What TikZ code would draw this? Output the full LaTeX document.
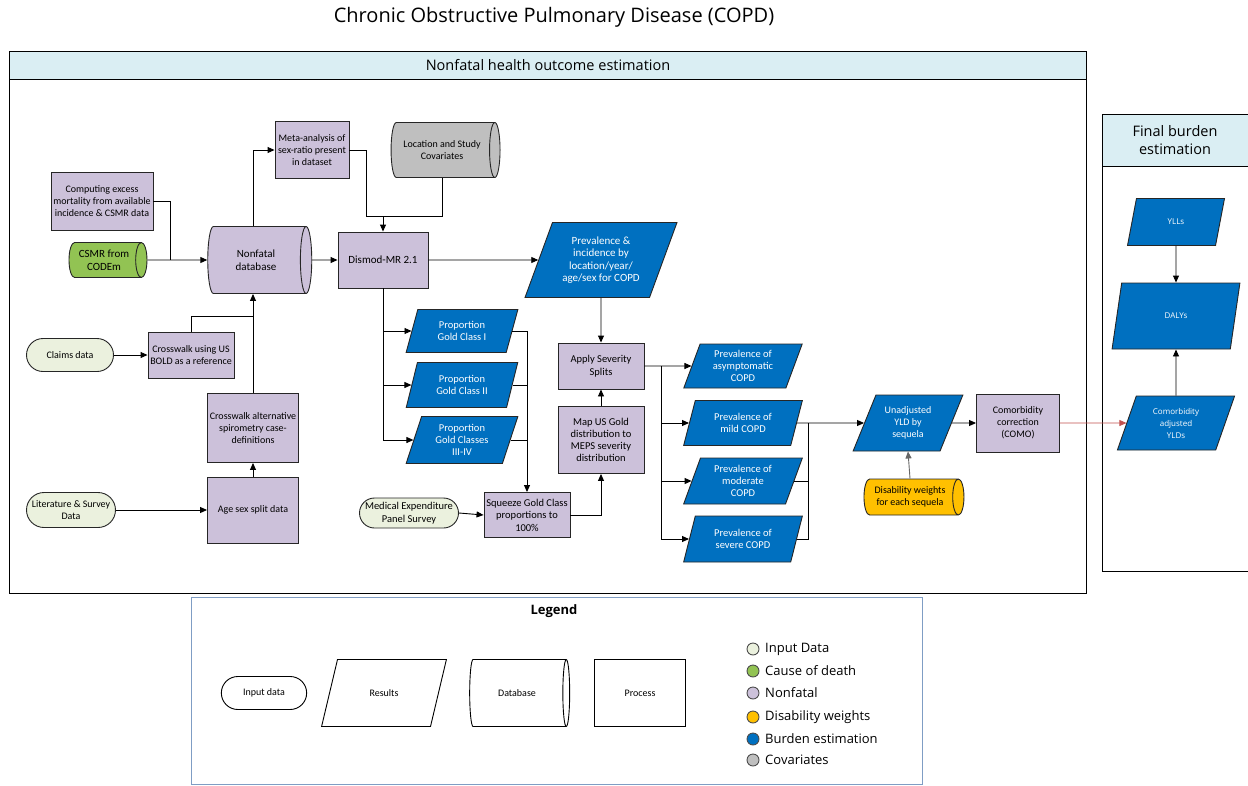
\documentclass[tikz,border=0pt]{standalone}
\usepackage{fontspec}
\setmainfont{Carlito}
\newfontfamily\segfont{Open Sans}
\usetikzlibrary{positioning,arrows.meta,shapes.geometric,shapes.misc,calc}

\definecolor{nonfatal}{HTML}{CCC1DA}
\definecolor{burden}{HTML}{0070C0}
\definecolor{inputd}{HTML}{EBF1DE}
\definecolor{codgreen}{HTML}{92C353}
\definecolor{dwyellow}{HTML}{FFC000}
\definecolor{covgray}{HTML}{BFBFBF}
\definecolor{headblue}{HTML}{DAEEF3}
\definecolor{legframe}{HTML}{7F9DC4}
\definecolor{linkred}{HTML}{C0504D}

\tikzset{
  arr/.style={-{Triangle[length=7pt,width=6pt]}},
  proc/.style={draw=black!85, fill=nonfatal, inner sep=1pt},
  indata/.style={rounded rectangle, draw=black!85, fill=inputd, inner sep=1pt},
  result/.style={trapezium, trapezium stretches=true, draw=black!85, fill=burden,
    text=white, inner sep=0pt},
  lean/.style={trapezium left angle=#1, trapezium right angle={180-#1}},
  dbase/.style={cylinder, draw=black!85, aspect=0.5, inner sep=1pt},
  legdot/.style={circle, draw=black!70, minimum size=12pt, inner sep=0pt},
  legtxt/.style={anchor=west, xshift=2pt, font=\segfont\fontsize{13}{15}\selectfont},
}

\begin{document}
\begin{tikzpicture}[x=1pt, y=-1pt, line width=0.9pt,
    every node/.style={align=center, font=\fontsize{10}{12}\selectfont}]
  \useasboundingbox (0,0) rectangle (1248,785);

  % title and panels
  \node[font=\segfont\fontsize{20}{22}\selectfont] (title) at (554,17)
    {Chronic Obstructive Pulmonary Disease (COPD)};
  \draw[fill=headblue] (9,51) rectangle (1086,79);
  \draw (9,79) rectangle (1086,593);
  \node[font=\segfont\fontsize{14.5}{16}\selectfont] (nfhead) at (548,65)
    {Nonfatal health outcome estimation};
  \draw[fill=headblue] (1102,114) rectangle (1260,166);
  \draw (1102,166) rectangle (1260,571);
  \node[font=\segfont\fontsize{14.5}{18}\selectfont] (fbhead) at (1175,140)
    {Final burden\\estimation};

  % left inputs
  \node[proc, minimum width=102pt, minimum height=58pt] (compexc) at (102,201)
    {Computing excess\\mortality from available\\incidence \& CSMR data};
  \node[dbase, fill=codgreen, minimum height=78pt, minimum width=35pt,
    font=\fontsize{11}{13}\selectfont] (csmr) at (104,260) {CSMR from\\CODEm};
  \node[dbase, fill=nonfatal, minimum height=104pt, minimum width=67pt,
    font=\fontsize{11}{13}\selectfont] (ndb) at (256,260) {Nonfatal\\database};
  \node[proc, minimum width=74pt, minimum height=57pt] (meta) at (312,150)
    {Meta-analysis of\\sex-ratio present\\in dataset};
  \node[dbase, fill=covgray, minimum height=109pt, minimum width=55pt] (cov) at (442,150)
    {Location and Study\\Covariates};
  \node[proc, minimum width=90pt, minimum height=56pt,
    font=\fontsize{11}{13}\selectfont] (dismod) at (383,260) {Dismod-MR 2.1};
  \node[indata, minimum width=89pt, minimum height=33pt] (claims) at (70,355) {Claims data};
  \node[proc, minimum width=86pt, minimum height=46pt] (cwbold) at (191,355)
    {Crosswalk using US\\BOLD as a reference};
  \node[proc, minimum width=91pt, minimum height=69pt] (cwalt) at (253,428)
    {Crosswalk alternative\\spirometry case-\\definitions};
  \node[proc, minimum width=91pt, minimum height=66pt] (agesex) at (253,510)
    {Age sex split data};
  \node[indata, minimum width=91pt, minimum height=35pt] (lit) at (71,510)
    {Literature \& Survey\\Data};
  \coordinate (j1) at (170,260);
  \coordinate (jb) at (253,316);
  \coordinate (m1) at (366,216);
  \coordinate (jd) at (383,216);

  % severity branch
  \node[result, lean=65, minimum width=152pt, minimum height=75pt,
    font=\fontsize{11}{12.5}\selectfont] (previnc) at (601,260)
    {Prevalence \&\\incidence by\\location/year/\\age/sex for COPD};
  \node[result, lean=72, minimum width=112pt, minimum height=43pt,
    font=\fontsize{10.5}{12.5}\selectfont] (g1) at (462,331)
    {Proportion\\Gold Class I};
  \node[result, lean=72, minimum width=112pt, minimum height=45pt,
    font=\fontsize{10.5}{12.5}\selectfont] (g2) at (462,385)
    {Proportion\\Gold Class II};
  \node[result, lean=72, minimum width=112pt, minimum height=47pt,
    font=\fontsize{10.5}{12}\selectfont] (g3) at (462,440)
    {Proportion\\Gold Classes\\III-IV};
  \node[proc, minimum width=86pt, minimum height=46pt,
    font=\fontsize{10.5}{12.5}\selectfont] (apply) at (601,366) {Apply Severity\\Splits};
  \node[proc, minimum width=86pt, minimum height=67pt,
    font=\fontsize{10.5}{12}\selectfont] (mapus) at (601,440)
    {Map US Gold\\distribution to\\MEPS severity\\distribution};
  \node[proc, minimum width=86pt, minimum height=45pt,
    font=\fontsize{10.5}{12.5}\selectfont] (sq) at (527,515)
    {Squeeze Gold Class\\proportions to\\100\%};
  \node[indata, minimum width=95pt, minimum height=30pt,
    font=\fontsize{10.5}{12.5}\selectfont] (meps) at (409,513)
    {Medical Expenditure\\Panel Survey};
  \coordinate (k) at (661,366);

  \node[result, lean=70, minimum width=119pt, minimum height=44pt,
    font=\fontsize{10.5}{12}\selectfont] (pasym) at (743,366)
    {Prevalence of\\asymptomatic\\COPD};
  \node[result, lean=70, minimum width=119pt, minimum height=45pt,
    font=\fontsize{10.5}{12}\selectfont] (pmild) at (743,423)
    {Prevalence of\\mild COPD};
  \node[result, lean=70, minimum width=119pt, minimum height=46pt,
    font=\fontsize{10.5}{12}\selectfont] (pmod) at (743,481)
    {Prevalence of\\moderate\\COPD};
  \node[result, lean=70, minimum width=119pt, minimum height=46pt,
    font=\fontsize{10.5}{12}\selectfont] (psev) at (743,539)
    {Prevalence of\\severe COPD};
  \coordinate (r) at (808,423);

  \node[result, lean=63, minimum width=110pt, minimum height=56pt] (unadj) at (908,423)
    {Unadjusted\\YLD by\\sequela};
  \node[proc, minimum width=83pt, minimum height=58pt] (como) at (1018,423)
    {Comorbidity\\correction\\(COMO)};
  \node[dbase, fill=dwyellow, minimum height=100pt, minimum width=36pt] (dw) at (910,497)
    {Disability weights\\for each sequela};

  % final burden
  \node[result, lean=72, minimum width=97pt, minimum height=47pt,
    font=\segfont\fontsize{8}{10}\selectfont] (ylls) at (1176,222) {YLLs};
  \node[result, lean=71, minimum width=128pt, minimum height=66pt,
    font=\segfont\fontsize{8}{10}\selectfont] (dalys) at (1176,316) {DALYs};
  \node[result, lean=70, minimum width=118pt, minimum height=54pt,
    font=\segfont\fontsize{8}{12}\selectfont] (cadj) at (1176,423)
    {Comorbidity\\adjusted\\YLDs};

  % connectors
  \draw (compexc.east) -| (j1);
  \draw[arr] (csmr.east) -- (ndb.west);
  \draw[arr] (ndb.north -| jb) |- (meta.west);
  \draw (meta.east) -| (m1) -- (jd);
  \draw (cov.south) |- (jd);
  \draw[arr] (jd) -- (dismod.north);
  \draw[arr] (ndb.east) -- (dismod.west);
  \draw[arr] (dismod.east) -- (previnc.west);
  \draw[arr] (claims.east) -- (cwbold.west);
  \draw (cwbold.north) |- (jb);
  \draw[arr] (cwalt.north) -- (cwalt.north |- ndb.south);
  \draw[arr] (agesex.north) -- (cwalt.south);
  \draw[arr] (lit.east) -- (agesex.west);
  \draw[arr] (dismod.south) |- (g3.west);
  \draw[arr] (dismod.south |- g1.west) -- (g1.west);
  \draw[arr] (dismod.south |- g2.west) -- (g2.west);
  \draw[arr] (g1.east) -| (sq.north);
  \draw (g2.east) -- (g2.east -| sq.north);
  \draw (g3.east) -- (g3.east -| sq.north);
  \draw[arr] (meps.east) -- (sq.west);
  \draw[arr] (sq.east) -| (mapus.south);
  \draw[arr] (mapus.north) -- (apply.south);
  \draw[arr] (previnc.south) -- (apply.north);
  \draw[arr] (apply.east) -- (pasym.west);
  \draw[arr] (k) |- (psev.west);
  \draw[arr] (k |- pmild.west) -- (pmild.west);
  \draw[arr] (k |- pmod.west) -- (pmod.west);
  \draw[arr] (pmild.east) -- (unadj.west);
  \draw (pmod.east) -- (pmod.east -| r);
  \draw (psev.east) -| (r);
  \draw[arr] (unadj.east) -- (como.west);
  \draw[arr, draw=black!60] (dw.north) -- (unadj.south);
  \draw[arr, draw=linkred, line width=0.8pt] (como.east) -- (cadj.west);
  \draw[arr] (ylls.south) -- (dalys.north);
  \draw[arr] (cadj.north) -- (dalys.south);

  % legend
  \draw[legframe, line width=1pt] (191,597) rectangle (922,784);
  \node[font=\segfont\bfseries\fontsize{13}{15}\selectfont] (legtitle) at (554,611) {Legend};
  \node[rounded rectangle, draw, minimum width=92pt, minimum height=33pt] (lgin) at (264,693)
    {Input data};
  \node[trapezium, trapezium stretches=true, lean=66, draw, minimum width=125pt,
    minimum height=67pt] (lgres) at (384,693) {Results};
  \node[cylinder, aspect=0.5, draw, minimum height=100pt, minimum width=67pt] (lgdb)
    at (517,693) {Database};
  \node[draw, minimum width=91pt, minimum height=67pt] (lgproc) at (640,693) {Process};
  \node[legdot, fill=inputd] (d1) at (753,649) {};
  \node[legdot, fill=codgreen] (d2) at (753,671) {};
  \node[legdot, fill=nonfatal] (d3) at (753,693) {};
  \node[legdot, fill=dwyellow] (d4) at (753,717) {};
  \node[legdot, fill=burden] (d5) at (753,739) {};
  \node[legdot, fill=covgray] (d6) at (753,760) {};
  \node[legtxt] at (d1.east) {Input Data};
  \node[legtxt] at (d2.east) {Cause of death};
  \node[legtxt] at (d3.east) {Nonfatal};
  \node[legtxt] at (d4.east) {Disability weights};
  \node[legtxt] at (d5.east) {Burden estimation};
  \node[legtxt] at (d6.east) {Covariates};
\end{tikzpicture}
\end{document}
